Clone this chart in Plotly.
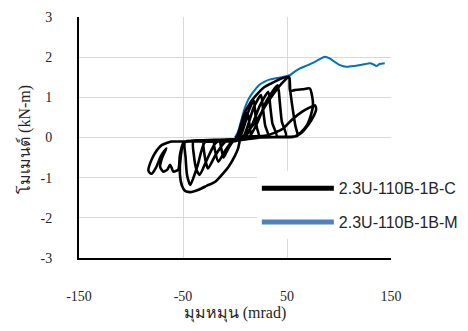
import plotly.graph_objects as go

# ---- data ----
# Series C: cyclic (hysteresis) response, rotation in mrad vs moment in kN-m
rot_c = [
    0, 3, 6, 9, 12, 13.5, 15, 16, 10, 4, 0,
    -6, -14, -13, -11, -7, -2, 0,
    5, 9, 13, 18, 19.5, 21, 23, 15, 5, 0,
    -10, -20, -19, -16, -10, -4, 0,
    8, 13, 18, 25, 27, 29, 32, 20, 8, 0,
    -15, -30, -29.5, -26, -19, -10, 0,
    10, 17, 24, 32, 34, 36, 40, 25, 10, 0,
    -20, -40, -39.5, -37, -34, -27, -18, 0,
    14, 22, 30, 41, 43, 45, 49, 30, 12, 0,
    -25, -48, -47.5, -46, -43, -36, -29, -15, 0,
    2, 6, 9, 12.5, 17, 22, 28, 35, 44.5, 52, 53, 55, 58, 60, 45, 25, 0,
    -25, -49, -52, -53, -51, -48, -43, -35, -27, -19, -11, -6, 0, 3, 5,
    8, 20, 32, 45, 52, 53, 57, 65, 72, 74, 75, 73, 69, 63, 57, 45, 20, 0,
    -20, -40, -56, -61, -70.5, -77, -81, -83.3, -82, -80, -76, -71, -66,
    -70, -72, -69, -65, -62.5, -61, -59.3, -54.5, -53, -49.7, -40, -20, 0,
    10, 30, 45, 55, 65, 72, 77, 78, 75, 70, 64, 58, 40, 20, 0,
]
mom_c = [
    0, 0.02, 0.25, 0.48, 0.62, 0.4, 0.12, 0.02, 0.0, -0.02, -0.05,
    -0.08, -0.08, -0.3, -0.5, -0.3, -0.1, -0.05,
    0.02, 0.3, 0.65, 0.92, 0.6, 0.25, 0.03, 0.01, -0.02, -0.06,
    -0.1, -0.1, -0.35, -0.6, -0.35, -0.13, -0.05,
    0.02, 0.35, 0.75, 1.06, 0.7, 0.3, 0.03, 0.01, -0.02, -0.07,
    -0.1, -0.1, -0.4, -0.77, -0.45, -0.12, -0.05,
    0.02, 0.35, 0.8, 1.14, 0.75, 0.35, 0.03, 0.01, -0.02, -0.08,
    -0.1, -0.1, -0.45, -0.8, -0.93, -0.55, -0.12, -0.05,
    0.03, 0.4, 0.9, 1.3, 0.9, 0.4, 0.04, 0.01, -0.02, -0.09,
    -0.1, -0.1, -0.5, -0.95, -1.18, -0.7, -0.12, -0.06, -0.04,
    0.02, 0.35, 0.6, 0.77, 0.95, 1.1, 1.25, 1.35, 1.47, 1.51, 1.2, 0.8, 0.3, 0.04, 0.02, 0.0, -0.08,
    -0.1, -0.12, -0.45, -0.9, -1.2, -1.33, -1.36, -1.3, -1.2, -1.1, -0.88, -0.72, -0.45, -0.27, -0.05,
    0.03, 0.4, 0.9, 1.35, 1.5, 1.15, 1.18, 1.2, 1.22, 1.05, 0.8, 0.56, 0.3, 0.12, 0.02, 0.01, 0.0, -0.06,
    -0.1, -0.1, -0.1, -0.1, -0.19, -0.39, -0.6, -0.81, -0.88, -0.9, -0.75, -0.45, -0.27,
    -0.5, -0.73, -0.85, -0.8, -0.68, -0.75, -0.85, -0.8, -0.44, -0.14, -0.08, -0.06, -0.04,
    0.02, 0.05, 0.2, 0.45, 0.65, 0.75, 0.8, 0.7, 0.5, 0.3, 0.12, 0.03, 0.01, 0.0, -0.05,
]

# Series M: monotonic response
rot_m = [0, 3, 6, 9, 12.5, 16, 19, 23, 28.5, 33, 38, 45, 52.6, 57.4, 62.5, 70, 78,
         86.5, 91, 96, 101, 107, 115, 122, 130, 133, 136, 139, 144]
mom_m = [0, 0.15, 0.43, 0.7, 0.93, 1.08, 1.18, 1.3, 1.39, 1.44, 1.47, 1.5, 1.55, 1.64, 1.72, 1.8, 1.9,
         2.01, 1.97, 1.88, 1.8, 1.76, 1.78, 1.81, 1.85, 1.82, 1.78, 1.83, 1.85]

name_c = "2.3U-110B-1B-C"
name_m = "2.3U-110B-1B-M"
x_title = "มุมหมุน (mrad)"
y_title = "โมเมนต์ (kN-m)"
x_ticks = [-150, -50, 50, 150]
y_ticks = [-3, -2, -1, 0, 1, 2, 3]

fig = go.Figure()
fig.add_trace(go.Scatter(x=rot_m, y=mom_m, mode="lines", showlegend=False,
                         line=dict(color="#0070C0", width=2, shape="spline", smoothing=0.6)))
fig.add_trace(go.Scatter(x=rot_c, y=mom_c, mode="lines", showlegend=False,
                         line=dict(color="black", width=2.6, shape="spline", smoothing=0.6)))
# legend entries
fig.add_trace(go.Scatter(x=[None], y=[None], mode="lines", name=name_c, legendgroup="c",
                         line=dict(color="black", width=5)))
fig.add_trace(go.Scatter(x=[None], y=[None], mode="lines", name=name_m, legendgroup="m",
                         line=dict(color="#4F81BD", width=5)))

serif = "Liberation Serif"
fig.update_layout(
    width=468, height=331,
    margin=dict(l=79, r=77, t=17, b=73, autoexpand=False),
    paper_bgcolor="white", plot_bgcolor="white",
    showlegend=True,
    legend=dict(x=0.57, y=0.36, xanchor="left", yanchor="top", bgcolor="white",
                traceorder="grouped", tracegroupgap=10, itemwidth=72,
                font=dict(family="Liberation Sans, Arial, sans-serif", size=16, color="#262626")),
    xaxis=dict(range=[-150, 150], tickvals=x_ticks, ticktext=[str(v) for v in x_ticks],
               showgrid=True, gridcolor="#D9D9D9", gridwidth=1, zeroline=False,
               showline=True, linecolor="black", linewidth=2, ticks="",
               ticklabelstandoff=24, automargin=True,
               tickfont=dict(family=serif, size=14, color="#262626"),
               title=dict(text=x_title, standoff=4,
                          font=dict(family=serif, size=16, color="#262626"))),
    yaxis=dict(range=[-3, 3], tickvals=y_ticks, ticktext=[str(v) for v in y_ticks],
               showgrid=True, gridcolor="#D9D9D9", gridwidth=1, zeroline=False,
               showline=True, linecolor="black", linewidth=2, ticks="",
               ticklabelstandoff=22, automargin=False,
               tickfont=dict(family=serif, size=14, color="#262626")),
    annotations=[dict(text=y_title, xref="paper", yref="paper", x=-0.173, y=0.49,
                      xanchor="center", yanchor="middle", textangle=-90, showarrow=False,
                      font=dict(family=serif, size=16, color="#262626"))],
)
fig.write_html("out.html")
